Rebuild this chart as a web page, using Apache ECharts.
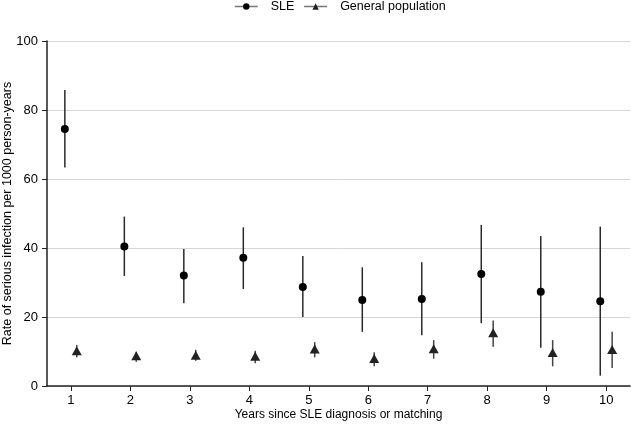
<!DOCTYPE html>
<html><head><meta charset="utf-8">
<script src="https://cdn.jsdelivr.net/npm/echarts@6/dist/echarts.min.js"></script>
<style>html,body{margin:0;padding:0;background:#fff}#c{width:631px;height:424px}</style>
</head><body><div id="c"></div>
<script>
const years = [1,2,3,4,5,6,7,8,9,10];
const sleRate  = [74.5,40.4,32.0,37.2,28.7,24.9,25.2,32.5,27.3,24.6];
const sleLower = [63.3,31.9,24.0,28.1,20.0,15.7,14.7,18.2,11.1,3.0];
const sleUpper = [85.8,49.1,39.7,46.0,37.7,34.4,35.9,46.7,43.5,46.2];
const genRate  = [10.2,8.8,8.9,8.6,10.7,8.0,10.8,15.4,9.7,10.6];
const genLower = [8.3,7.0,7.3,6.6,8.3,5.7,7.9,11.4,5.7,5.2];
const genUpper = [11.9,9.9,10.5,10.2,12.7,9.8,13.3,19.0,13.3,15.7];
const yTicks = [0,20,40,60,80,100];

const OFF = 0.1;
const FONT = 'Liberation Sans, Arial, sans-serif';
function errSeries(lo, hi, dx, color){
  return {
    type:'custom', silent:true, z:2,
    data: years.map((y,i)=>[y+dx, lo[i], hi[i]]),
    renderItem: function(params, api){
      const p1 = api.coord([api.value(0), api.value(1)]);
      const p2 = api.coord([api.value(0), api.value(2)]);
      return {type:'line', shape:{x1:p1[0],y1:p1[1],x2:p2[0],y2:p2[1]},
              style:{stroke:color, lineWidth:1.5}};
    }
  };
}
const chart = echarts.init(document.getElementById('c'), null, {renderer:'canvas'});
chart.setOption({
  animation:false,
  textStyle:{fontFamily:FONT},
  legend:{
    top:0, left:234, padding:0, itemWidth:23, itemHeight:8, itemGap:9,
    textStyle:{fontSize:12.5, color:'#000', fontFamily:FONT, padding:[0,0,0,8]},
    lineStyle:{opacity:1, color:'#777', width:1.5},
    data:['SLE','General population']
  },
  grid:{left:47, right:1, top:41, bottom:38, containLabel:false, outerBoundsMode:'none'},
  xAxis:{
    type:'value', min:0.6, max:10.4,
    name:'Years since SLE diagnosis or matching', nameLocation:'middle', nameGap:23,
    nameMoveOverlap:false,
    nameTextStyle:{fontSize:12, color:'#000', fontFamily:FONT},
    axisLine:{show:true, onZero:false, lineStyle:{color:'#222', width:1.5}},
    axisTick:{show:true, length:5, lineStyle:{color:'#222'}, customValues:years},
    axisLabel:{fontSize:13, color:'#000', margin:8, customValues:years},
    splitLine:{show:false}
  },
  yAxis:{
    type:'value', min:0, max:100, interval:20,
    name:'Rate of serious infection per 1000 person-years', nameLocation:'middle', nameGap:33,
    nameMoveOverlap:false,
    nameTextStyle:{fontSize:12.5, color:'#000', fontFamily:FONT},
    axisLine:{show:true, lineStyle:{color:'#222', width:1.5}},
    axisTick:{show:true, length:5, lineStyle:{color:'#222'}},
    axisLabel:{fontSize:13, color:'#000', margin:9, customValues:yTicks},
    splitLine:{show:true, lineStyle:{color:'#d6d6d6', width:1}}
  },
  series:[
    errSeries(sleLower, sleUpper, -OFF, '#2a2a2a'),
    errSeries(genLower, genUpper, OFF, '#444'),
    {name:'SLE', type:'line', z:5, symbol:'circle', symbolSize:8,
     itemStyle:{color:'#000'}, lineStyle:{opacity:0},
     data: years.map((y,i)=>[y-OFF, sleRate[i]])},
    {name:'General population', type:'line', z:5, symbol:'triangle', symbolSize:[10,9],
     itemStyle:{color:'#222'}, lineStyle:{opacity:0},
     data: years.map((y,i)=>[y+OFF, genRate[i]])}
  ]
});
</script></body></html>
